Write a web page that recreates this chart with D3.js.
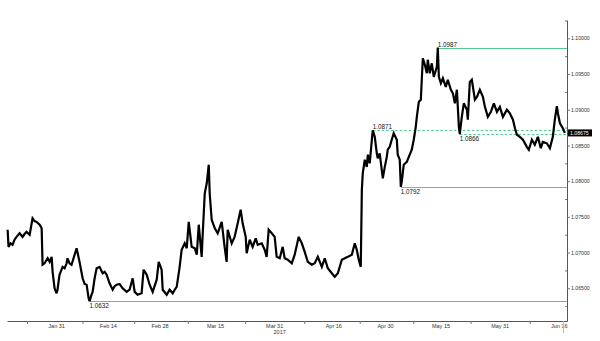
<!DOCTYPE html>
<html>
<head>
<meta charset="utf-8">
<script src="https://cdn.jsdelivr.net/npm/d3@7"></script>
<style>
  body { margin: 0; background: #fff; }
  svg { display: block; font-family: "Liberation Sans", Arial, sans-serif; }
</style>
</head>
<body>
<div id="container"></div>
<script>
//DATA (2017: timestamp "MM-DD HH" and price)
const stamps = [
  "01-17 18","01-18 00","01-18 13","01-19 02","01-19 15","01-20 04","01-21 00","01-21 19","01-22 08","01-22 21",
  "01-23 17","01-24 12","01-25 01","01-25 14","01-26 10","01-26 23","01-27 05","01-27 18","01-28 14","01-29 03",
  "01-29 16","01-29 22","01-30 11","01-31 00","01-31 06","01-31 19","02-01 15","02-02 04","02-02 17","02-02 23",
  "02-03 12","02-04 01","02-04 21","02-05 10","02-06 05","02-07 01","02-07 14","02-08 03","02-08 16","02-08 22",
  "02-09 11","02-09 18","02-10 07","02-10 20","02-11 15","02-12 11","02-13 00","02-13 13","02-14 08","02-15 04",
  "02-15 17","02-16 06","02-17 01","02-17 21","02-18 23","02-19 18","02-20 14","02-21 03","02-21 22","02-23 00",
  "02-23 13","02-24 09","02-25 04","02-26 00","02-27 02","02-27 15","02-28 10","02-28 17","03-01 19","03-02 14",
  "03-03 10","03-03 23","03-04 12","03-05 07","03-05 20","03-06 16","03-07 05","03-07 18","03-08 13","03-09 09",
  "03-09 22","03-10 11","03-11 06","03-11 13","03-12 02","03-12 15","03-13 04","03-13 10","03-13 23","03-14 19",
  "03-15 14","03-16 16","03-17 11","03-18 00","03-18 07","03-19 09","03-20 04","03-21 00","03-21 19","03-22 08",
  "03-23 04","03-23 10","03-24 06","03-25 01","03-25 21","03-26 10","03-27 12","03-28 07","03-28 20","03-29 09",
  "03-30 05","03-31 00","03-31 13","04-01 09","04-02 04","04-02 17","04-03 13","04-04 15","04-05 10","04-06 12",
  "04-07 08","04-08 03","04-08 23","04-10 01","04-10 20","04-11 16","04-12 18","04-13 13","04-14 09","04-15 11",
  "04-16 06","04-17 02","04-18 04","04-18 23","04-19 19","04-20 21","04-21 16","04-22 05","04-22 18","04-23 07",
  "04-23 14","04-23 20","04-24 09","04-24 22","04-25 05","04-25 17","04-26 07","04-26 13","04-27 02","04-27 15",
  "04-27 21","04-28 10","04-28 23","04-29 06","04-29 19","04-30 08","04-30 14","05-01 03","05-01 16","05-02 05",
  "05-03 01","05-03 07","05-03 20","05-04 03","05-04 09","05-04 22","05-05 18","05-06 07","05-07 02","05-07 15",
  "05-08 04","05-08 11","05-09 00","05-09 13","05-09 19","05-10 02","05-10 15","05-11 04","05-11 10","05-11 23",
  "05-12 12","05-13 01","05-13 21","05-14 03","05-14 10","05-14 23","05-15 12","05-16 07","05-16 20","05-17 16",
  "05-18 05","05-18 18","05-19 07","05-19 13","05-19 20","05-20 02","05-20 15","05-21 04","05-22 00","05-22 06",
  "05-22 19","05-23 08","05-24 04","05-24 17","05-25 12","05-26 08","05-26 21","05-27 16","05-28 12","05-29 07",
  "05-30 03","05-30 22","05-31 18","06-01 20","06-02 15","06-03 11","06-04 00","06-04 13","06-05 08","06-06 04",
  "06-07 05","06-07 18","06-08 14","06-09 09","06-10 05","06-11 00","06-11 13","06-12 15","06-13 11","06-14 06",
  "06-14 19","06-15 08","06-15 15","06-16 04","06-16 23","06-17 12"
];
const prices = [
  1.0732,1.0708,1.0713,1.0711,1.0718,1.0722,1.0727,1.0722,1.0726,1.0729,
  1.0725,1.0748,1.0744,1.0743,1.0739,1.0734,1.0683,1.0685,1.0692,1.0687,
  1.0694,1.0673,1.0650,1.0643,1.0648,1.0669,1.0680,1.0678,1.0685,1.0692,
  1.0685,1.0683,1.0697,1.0706,1.0687,1.0664,1.0656,1.0655,1.0636,1.0632,
  1.0641,1.0645,1.0664,1.0678,1.0680,1.0671,1.0673,1.0669,1.0657,1.0648,
  1.0653,1.0655,1.0656,1.0650,1.0645,1.0648,1.0664,1.0645,1.0641,1.0643,
  1.0676,1.0669,1.0655,1.0645,1.0662,1.0687,1.0676,1.0648,1.0641,1.0648,
  1.0643,1.0648,1.0652,1.0680,1.0704,1.0713,1.0706,1.0743,1.0708,1.0706,
  1.0697,1.0739,1.0694,1.0727,1.0783,1.0797,1.0823,1.0783,1.0746,1.0734,
  1.0727,1.0743,1.0708,1.0687,1.0732,1.0713,1.0722,1.0741,1.0760,1.0741,
  1.0722,1.0699,1.0718,1.0708,1.0720,1.0711,1.0713,1.0704,1.0694,1.0732,
  1.0727,1.0722,1.0694,1.0692,1.0708,1.0692,1.0690,1.0685,1.0697,1.0722,
  1.0713,1.0701,1.0687,1.0683,1.0685,1.0694,1.0680,1.0692,1.0678,1.0671,
  1.0666,1.0671,1.0690,1.0692,1.0694,1.0697,1.0713,1.0704,1.0690,1.0680,
  1.0788,1.0811,1.0830,1.0820,1.0837,1.0825,1.0858,1.0871,1.0862,1.0839,
  1.0832,1.0839,1.0816,1.0804,1.0820,1.0834,1.0844,1.0848,1.0858,1.0867,
  1.0858,1.0837,1.0830,1.0792,1.0799,1.0823,1.0827,1.0834,1.0844,1.0858,
  1.0876,1.0890,1.0911,1.0914,1.0942,1.0972,1.0963,1.0951,1.0970,1.0951,
  1.0965,1.0946,1.0960,1.0987,1.0946,1.0937,1.0944,1.0932,1.0942,1.0928,
  1.0923,1.0909,1.0928,1.0904,1.0876,1.0866,1.0890,1.0909,1.0900,1.0886,
  1.0939,1.0942,1.0914,1.0918,1.0928,1.0918,1.0904,1.0890,1.0897,1.0909,
  1.0897,1.0904,1.0890,1.0900,1.0895,1.0886,1.0874,1.0865,1.0862,1.0858,
  1.0848,1.0844,1.0858,1.0851,1.0862,1.0846,1.0855,1.0853,1.0846,1.0862,
  1.0886,1.0905,1.0895,1.0881,1.0874,1.08675
];
const xLabels = ["01-31","02-14","02-28","03-15","03-31","04-16","04-30","05-15","05-31","06-16"];
const yearLabel = "2017";
const yTicks = [1.065, 1.07, 1.075, 1.08, 1.085, 1.09, 1.095, 1.10];
const levels = [1.0987, 1.0871, 1.0866, 1.0792, 1.0632];
const dashedLevels = [1.0871, 1.0866];

//CONSTANTS
const width = 600, height = 341;
const plot = {left: 7, right: 567, top: 20, bottom: 321};
const green = "#52c98f";

const parseStamp = s => d3.timeParse("%Y-%m-%d %H")("2017-" + s);
const data = stamps.map((s, i) => ({date: parseStamp(s), price: prices[i]}));
const crisp = v => Math.round(v) + 0.5;

//SCALES
const xScale = d3.scaleTime()
  .domain([parseStamp("01-17 14"), parseStamp("06-18 02")])
  .range([plot.left, plot.right]);

const yScale = d3.scaleLinear()
  .domain([1.06042, 1.10256])
  .range([plot.bottom, plot.top]);

const svg = d3.select("#container")
  .append("svg")
  .attr("width", width)
  .attr("height", height);

// x axis: ticks sit halfway between the labelled dates
const labelDates = xLabels.map(s => parseStamp(s + " 00"));
const xTickDates = [new Date(2017, 0, 23)].concat(
  labelDates.slice(1).map((d, i) => new Date((+d + +labelDates[i]) / 2)));

const xAxis = d3.axisBottom(xScale)
  .tickValues(xTickDates)
  .tickSize(3)
  .tickSizeOuter(0)
  .tickFormat("");

const xAxisGroup = svg.append("g")
  .attr("transform", `translate(0, ${plot.bottom})`)
  .call(xAxis);
xAxisGroup.select(".domain").attr("stroke", "#555");
xAxisGroup.selectAll(".tick line").attr("stroke", "#777");

svg.append("g")
  .selectAll("text")
  .data(labelDates)
  .join("text")
  .attr("x", d => xScale(d))
  .attr("y", plot.bottom + 6.5)
  .attr("text-anchor", "middle")
  .attr("font-size", 5.5)
  .attr("fill", "#333")
  .text(d3.timeFormat("%b %-d"));

svg.append("text")
  .attr("x", xScale(labelDates[4]) + 5)
  .attr("y", plot.bottom + 12.5)
  .attr("text-anchor", "middle")
  .attr("font-size", 5.5)
  .attr("fill", "#333")
  .text(yearLabel);

// y axis on the right
const yAxis = d3.axisRight(yScale)
  .tickValues(yTicks)
  .tickSize(3)
  .tickSizeOuter(0)
  .tickFormat(d3.format(".5f"));

const yAxisGroup = svg.append("g")
  .attr("transform", `translate(${plot.right}, 0)`)
  .call(yAxis);
yAxisGroup.select(".domain").attr("stroke", "#555");
yAxisGroup.selectAll(".tick line").attr("stroke", "#777");
yAxisGroup.selectAll(".tick text")
  .attr("x", 4)
  .attr("font-size", 5.2)
  .attr("font-family", "Liberation Sans, Arial, sans-serif")
  .attr("fill", "#333");

// minor ticks between the labelled ones
const minorTicks = yTicks.map(v => v + 0.0025).filter(v => v < yScale.domain()[1]);
minorTicks.push(yTicks[0] - 0.0025);
svg.append("g")
  .attr("transform", `translate(${plot.right}, 0)`)
  .call(d3.axisLeft(yScale).tickValues(minorTicks).tickSize(2).tickFormat(""))
  .call(g => g.select(".domain").remove())
  .selectAll(".tick line").attr("stroke", "#777");

// horizontal level lines starting at the bar that made them
const levelGroup = svg.append("g");
levels.forEach(lv => {
  const i = data.findIndex(d => Math.abs(d.price - lv) < 1e-6);
  const start = data[i];
  const isPeak = (i === 0 || data[i - 1].price <= lv) && (i === data.length - 1 || data[i + 1].price <= lv);
  const x0 = xScale(start.date);
  const yy = crisp(yScale(lv));
  levelGroup.append("line")
    .attr("x1", x0)
    .attr("x2", plot.right)
    .attr("y1", yy)
    .attr("y2", yy)
    .attr("stroke", green)
    .attr("stroke-width", 1.2)
    .attr("stroke-dasharray", dashedLevels.includes(lv) ? "2.5,2" : null);
  levelGroup.append("text")
    .attr("x", x0)
    .attr("y", yy + (isPeak ? -1.5 : 6.5))
    .attr("font-size", 6.3)
    .attr("fill", "#111")
    .text(d3.format(".4f")(lv));
});

// price line
const lineGen = d3.line()
  .x(d => xScale(d.date))
  .y(d => yScale(d.price));

svg.append("path")
  .datum(data)
  .attr("class", "line")
  .attr("fill", "none")
  .attr("stroke", "#000")
  .attr("stroke-width", 2.2)
  .attr("stroke-linejoin", "miter")
  .attr("stroke-miterlimit", 3)
  .attr("d", lineGen);

// last price marker
const last = data[data.length - 1];
svg.append("line")
  .attr("x1", crisp(xScale(last.date) - 2))
  .attr("x2", crisp(xScale(last.date) - 2))
  .attr("y1", plot.bottom)
  .attr("y2", plot.bottom + 12)
  .attr("stroke", "#bbb");

svg.append("rect")
  .attr("x", plot.right + 1)
  .attr("y", yScale(last.price) - 3.5)
  .attr("width", 24)
  .attr("height", 7)
  .attr("fill", "#000");

svg.append("text")
  .attr("x", plot.right + 3)
  .attr("y", yScale(last.price) + 1.9)
  .attr("font-size", 5.2)
  .attr("fill", "#fff")
  .text(d3.format(".5f")(last.price));
</script>
</body>
</html>
